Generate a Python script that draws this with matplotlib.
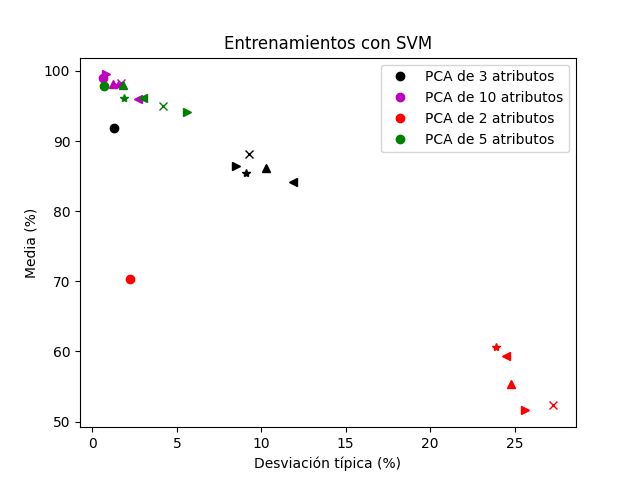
import matplotlib
matplotlib.use("Agg")
import matplotlib.pyplot as plt

markers = ["o", "x", "^", "<", ">", "*"]

labels = ["PCA de 3 atributos", "PCA de 10 atributos", "PCA de 2 atributos", "PCA de 5 atributos"]
colors = ["k", "m", "r", "g"]

# desviacion tipica / media, one value per marker
std_3 = [1.3, 9.3, 10.3, 11.9, 8.5, 9.1]
mean_3 = [91.8, 88.2, 86.2, 84.1, 86.4, 85.5]
std_10 = [0.6, 1.7, 1.2, 2.7, 0.8, 1.5]
mean_10 = [99.0, 98.3, 98.2, 96.0, 99.5, 98.0]
std_2 = [2.2, 27.3, 24.8, 24.5, 25.6, 23.9]
mean_2 = [70.3, 52.3, 55.3, 59.3, 51.6, 60.7]
std_5 = [0.7, 4.2, 1.8, 3.0, 5.6, 1.9]
mean_5 = [97.8, 95.0, 98.0, 96.2, 94.2, 96.2]

stds = [std_3, std_10, std_2, std_5]
means = [mean_3, mean_10, mean_2, mean_5]

fig, ax = plt.subplots(figsize=(6.4, 4.8), dpi=100)
for lab, c, xs, ys in zip(labels, colors, stds, means):
    for i, m in enumerate(markers):
        ax.plot(xs[i], ys[i], m, color=c, label=lab if i == 0 else None)

ax.set_title("Entrenamientos con SVM")
ax.set_xlabel("Desviación típica (%)")
ax.set_ylabel("Media (%)")
ax.legend(loc="upper right")
fig.savefig("out.png")
